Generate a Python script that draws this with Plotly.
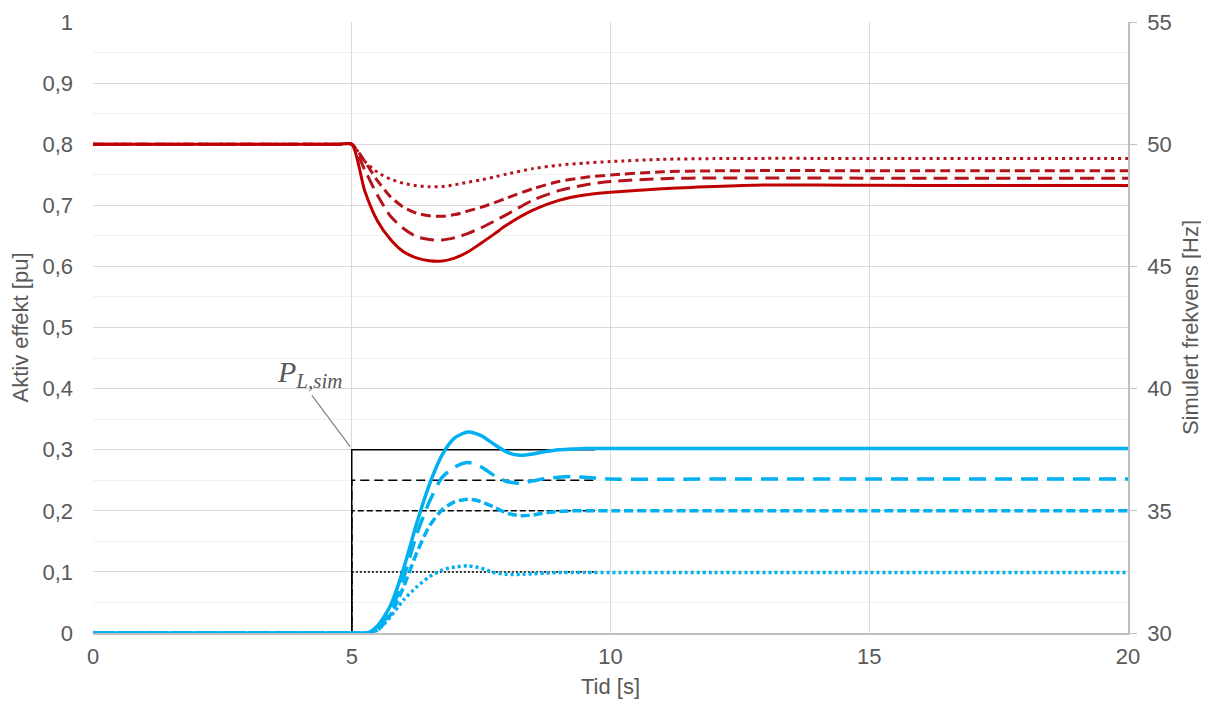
import plotly.graph_objects as go

# ---------------- data ----------------
# time axis for active power curves [s]
t_p = [0, 2.5, 4.75, 5.0, 5.3, 5.5, 5.75, 6.0, 6.25, 6.5, 6.75, 7.0, 7.25, 7.5, 7.75,
       8.0, 8.25, 8.5, 8.75, 9.0, 9.25, 9.5, 10, 12, 15, 20]
# active power [pu] for load steps 0.3 / 0.25 / 0.2 / 0.1
p_030 = [0, 0, 0, 0, 0, 0.012, 0.045, 0.105, 0.178, 0.243, 0.292, 0.320, 0.329, 0.323, 0.309,
         0.296, 0.291, 0.293, 0.297, 0.300, 0.301, 0.302, 0.302, 0.302, 0.302, 0.302]
p_025 = [0, 0, 0, 0, 0, 0.008, 0.035, 0.090, 0.160, 0.215, 0.255, 0.272, 0.279, 0.272, 0.258,
         0.248, 0.245, 0.249, 0.253, 0.255, 0.256, 0.255, 0.252, 0.252, 0.252, 0.252]
p_020 = [0, 0, 0, 0, 0, 0.005, 0.030, 0.075, 0.130, 0.175, 0.202, 0.215, 0.219, 0.215, 0.206,
         0.196, 0.192, 0.193, 0.197, 0.199, 0.200, 0.200, 0.200, 0.200, 0.200, 0.200]
p_010 = [0, 0, 0, 0, 0, 0.005, 0.027, 0.054, 0.075, 0.092, 0.103, 0.108, 0.110, 0.106, 0.099,
         0.096, 0.096, 0.097, 0.098, 0.099, 0.099, 0.099, 0.099, 0.099, 0.099, 0.099]

# time axis for frequency curves [s]
t_f = [0, 2.5, 4.75, 5.0, 5.25, 5.5, 5.75, 6.0, 6.25, 6.5, 6.75, 7.0, 7.25, 7.5, 7.75, 8.0,
       8.5, 9.0, 9.5, 10, 11, 12, 13, 14, 15, 17, 20]
# simulated frequency [Hz]
f_030 = [50, 50, 50, 50, 48.1, 46.85, 46.1, 45.6, 45.35, 45.23, 45.22, 45.35, 45.6, 45.95, 46.32, 46.7,
         47.3, 47.7, 47.92, 48.03, 48.18, 48.27, 48.33, 48.33, 48.32, 48.31, 48.31]
f_025 = [50, 50, 50, 50, 48.95, 47.9, 47.05, 46.55, 46.22, 46.1, 46.08, 46.18, 46.35, 46.58, 46.85, 47.13,
         47.71, 48.1, 48.33, 48.47, 48.59, 48.62, 48.62, 48.62, 48.61, 48.61, 48.61]
f_020 = [50, 50, 50, 50, 49.3, 48.5, 47.85, 47.42, 47.18, 47.07, 47.05, 47.12, 47.27, 47.42, 47.6, 47.8,
         48.18, 48.47, 48.64, 48.74, 48.87, 48.91, 48.92, 48.92, 48.91, 48.91, 48.91]
f_010 = [50, 50, 50, 50, 49.3, 48.85, 48.57, 48.4, 48.3, 48.26, 48.27, 48.34, 48.45, 48.54, 48.66, 48.78,
         49.0, 49.14, 49.23, 49.29, 49.38, 49.41, 49.42, 49.42, 49.42, 49.42, 49.42]

# simulated load step P_L,sim
t_load = [0, 5, 5, 9.7]
load_levels = [0.3, 0.25, 0.2, 0.1]

x_ticks = [0, 5, 10, 15, 20]

# ---------------- styles ----------------
BLUE = "#00B0F0"
RED = "#C00000"
RED2 = "#B3141C"
TXT = "#595959"
FONT = "Liberation Sans, Arial, sans-serif"

fig = go.Figure()

black_dash = ["solid", "9px,5px", "6px,3px", "2px,2px"]
for lvl, d in zip(load_levels, black_dash):
    fig.add_trace(go.Scatter(x=t_load, y=[0, 0, lvl, lvl], mode="lines",
                             line=dict(color="black", width=1.5, dash=d),
                             showlegend=False, hoverinfo="skip"))

blue_series = [(p_010, "3px,3px"), (p_020, "9px,4px"), (p_025, "17px,9px"), (p_030, "solid")]
for ys, d in blue_series:
    fig.add_trace(go.Scatter(x=t_p, y=ys, mode="lines",
                             line=dict(color=BLUE, width=3.5, dash=d, shape="spline", smoothing=0.7),
                             showlegend=False))

red_series = [(f_010, "3px,4px", RED2), (f_020, "10px,5px", RED2), (f_025, "14px,7px", RED2),
              (f_030, "solid", RED)]
for ys, d, c in red_series:
    fig.add_trace(go.Scatter(x=t_f, y=ys, mode="lines", yaxis="y2",
                             line=dict(color=c, width=3, dash=d, shape="spline", smoothing=0.7),
                             showlegend=False))

# P_L,sim label + leader line
fig.add_shape(type="line", x0=4.23, y0=0.389, x1=4.97, y1=0.305, xref="x", yref="y",
              line=dict(color="#808080", width=1.2))
fig.add_annotation(x=4.19, y=0.424, xref="x", yref="y", showarrow=False,
                   text="<i>P</i><sub><i>L,sim</i></sub>",
                   font=dict(family="Liberation Serif, DejaVu Serif, serif", size=30, color=TXT))

fig.update_layout(
    width=1201, height=698,
    margin=dict(l=85, r=81, t=14, b=73, autoexpand=False),
    paper_bgcolor="white", plot_bgcolor="white",
    separators=", ",
    font=dict(family=FONT, size=22, color=TXT),
    showlegend=False,
    xaxis=dict(range=[0, 20], tickvals=x_ticks, showgrid=True, gridcolor="#d9d9d9", gridwidth=1.3,
               zeroline=False, showline=True, linecolor="#bfbfbf", linewidth=1.5,
               ticks="", ticklabelstandoff=3, automargin=False,
               title=dict(text="Tid [s]", standoff=10, font=dict(size=22, color=TXT)),
               tickfont=dict(size=22, color=TXT)),
    yaxis=dict(range=[0, 1], dtick=0.1, showgrid=True, gridcolor="#d9d9d9", gridwidth=1.3,
               minor=dict(dtick=0.05, showgrid=True, gridcolor="#f0f0f0", gridwidth=1.3),
               zeroline=False, showline=False, ticks="", ticklabelstandoff=19, automargin=False,
               title=dict(text="Aktiv effekt [pu]", standoff=10, font=dict(size=22, color=TXT)),
               tickfont=dict(size=22, color=TXT)),
    yaxis2=dict(range=[30, 55], dtick=5, overlaying="y", side="right", showgrid=False,
                zeroline=False, showline=True, linecolor="#bfbfbf", linewidth=1.5,
                ticks="outside", ticklen=7, tickcolor="#bfbfbf", ticklabelstandoff=6, automargin=False,
                title=dict(text="Simulert frekvens [Hz]", standoff=12, font=dict(size=22, color=TXT)),
                tickfont=dict(size=22, color=TXT)),
)

fig.write_html("out.html")
